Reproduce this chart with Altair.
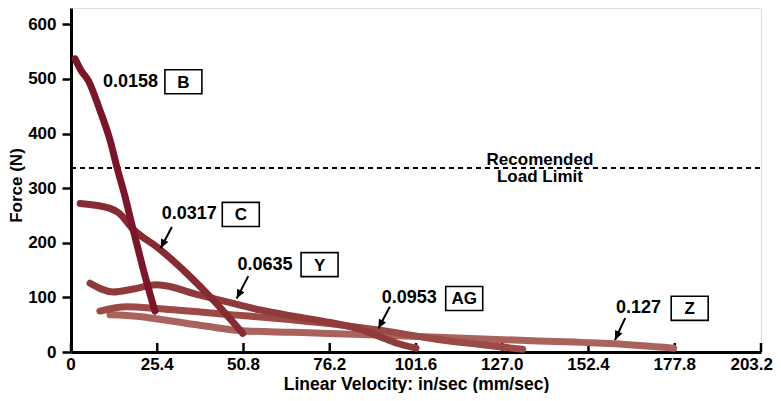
import altair as alt
import pandas as pd

# ---------------- data ----------------
x_ticks = [0, 25.4, 50.8, 76.2, 101.6, 127.0, 152.4, 177.8, 203.2]
x_tick_labels = ["0", "25.4", "50.8", "76.2", "101.6", "127.0", "152.4", "177.8", "203.2"]
y_ticks = [0, 100, 200, 300, 400, 500, 600]

series_names = ["Z", "AG", "Y", "C", "B"]          # drawing order (back to front)
series_colors = ["#aa625c", "#9c4a46", "#903b3b", "#872a31", "#7b1527"]

b_x = [1.2, 3.0, 5.1, 8.5, 11.5, 13.5, 15.9, 18.3, 21.3, 24.7]
b_y = [537, 515, 497, 443, 388, 339, 285, 224, 151, 75]
c_x = [2.7, 11.5, 14.0, 18.3, 26.2, 34.1, 41.9, 50.6]
c_y = [272, 263, 255, 225, 188, 144, 95, 34]
y_x = [5.6, 12.5, 18.0, 25.2, 38.0, 47.8, 55.7, 66.0, 76.3, 85.0, 91.0, 96.0, 101.6]
y_y = [126, 110, 115, 123, 104, 89, 77, 65, 54, 42, 28, 16, 7]
ag_x = [8.5, 16.4, 26.2, 47.8, 60.0, 76.0, 91.0, 108.0, 120.0, 133.0]
ag_y = [75, 83, 79, 68, 62, 52, 40, 23, 14, 5]
z_x = [11.5, 20.0, 27.0, 40.0, 50.0, 65.0, 76.0, 90.0, 108.0, 134.0, 160.0, 177.5]
z_y = [68, 65, 59, 47, 39, 36, 34, 31, 27, 21, 15, 7]

series_x = {"B": b_x, "C": c_x, "Y": y_x, "AG": ag_x, "Z": z_x}
series_y = {"B": b_y, "C": c_y, "Y": y_y, "AG": ag_y, "Z": z_y}

# annotation labels
value_labels = ["0.0158", "0.0317", "0.0635", "0.0953", "0.127"]
value_x = [9.4, 26.7, 49.0, 91.5, 160.5]
value_y = [495, 252, 160, 98, 80]
box_labels = ["B", "C", "Y", "AG", "Z"]
box_x = [33.1, 50.0, 73.2, 115.8, 182.2]
box_y = [495, 252, 160, 98, 80]

arrow_tail_x = [29.7, 52.2, 93.9, 163.2]
arrow_tail_y = [229, 139, 83, 62]
arrow_tip_x = [26.4, 48.8, 90.5, 160.2]
arrow_tip_y = [190, 98, 43, 22]
arrow_angle = [207, 207, 208, 205]

limit_value = 337
limit_text = ["Recomended", "Load Limit"]
limit_text_x = [138.1, 138.1]
limit_text_y = [351, 320]

FONT = "Liberation Sans"

# ---------------- scales ----------------
xs = alt.Scale(domain=[0, 203.2], nice=False, zero=False)
ys = alt.Scale(domain=[0, 630], nice=False, zero=False)

x_axis = alt.Axis(
    values=x_ticks, ticks=False, grid=False, domain=True, domainColor="black",
    domainWidth=3, labels=False,
    title="Linear Velocity: in/sec (mm/sec)", titleFont=FONT, titleFontSize=17.5,
    titleFontWeight="bold", titleColor="black", titleBaseline="alphabetic", titleY=37,
)
y_axis = alt.Axis(
    values=y_ticks, ticks=True, tickSize=9, tickWidth=2.5, tickColor="black",
    grid=False, domain=True, domainColor="black", domainWidth=3,
    labelFont=FONT, labelFontSize=17, labelFontWeight="bold", labelColor="black",
    labelPadding=6,
    title="Force (N)", titleFont=FONT, titleFontSize=17, titleFontWeight="bold",
    titleColor="black", titleAngle=-90, titleAlign="center", titleBaseline="middle",
    titleX=-55, titleY=177,
)

layers = []

# axes carrier (invisible)
axes_df = pd.DataFrame({"x": [0, 203.2], "y": [0, 630]})
layers.append(
    alt.Chart(axes_df).mark_point(opacity=0).encode(
        x=alt.X("x:Q", scale=xs, axis=x_axis),
        y=alt.Y("y:Q", scale=ys, axis=y_axis),
    )
)

# inward x ticks
tick_df = pd.DataFrame({"x": x_ticks, "t": x_tick_labels})
layers.append(
    alt.Chart(tick_df).mark_rule(color="black", strokeWidth=2.5).encode(
        x=alt.X("x:Q", scale=xs),
        y=alt.value(344), y2=alt.value(335),
    )
)
# x tick labels (last one kept inside the page)
layers.append(
    alt.Chart(tick_df.iloc[:-1]).mark_text(font=FONT, fontSize=17, fontWeight="bold",
                                           color="black", align="center",
                                           baseline="middle").encode(
        x=alt.X("x:Q", scale=xs), y=alt.value(357), text="t:N",
    )
)
layers.append(
    alt.Chart(tick_df.iloc[-1:]).mark_text(font=FONT, fontSize=17, fontWeight="bold",
                                           color="black", align="right",
                                           baseline="middle", dx=12).encode(
        x=alt.X("x:Q", scale=xs), y=alt.value(357), text="t:N",
    )
)

# recommended load limit
limit_df = pd.DataFrame({"x": [0], "x2": [203.2], "y": [limit_value]})
layers.append(
    alt.Chart(limit_df).mark_rule(color="black", strokeWidth=2, strokeDash=[5, 4]).encode(
        x=alt.X("x:Q", scale=xs), x2="x2:Q", y=alt.Y("y:Q", scale=ys),
    )
)
lt_df = pd.DataFrame({"t": limit_text, "x": limit_text_x, "y": limit_text_y})
layers.append(
    alt.Chart(lt_df).mark_text(font=FONT, fontSize=17, fontWeight="bold", color="black",
                               align="center", baseline="middle").encode(
        x=alt.X("x:Q", scale=xs), y=alt.Y("y:Q", scale=ys), text="t:N",
    )
)

# curves
for name, col in zip(series_names, series_colors):
    df = pd.DataFrame({"x": series_x[name], "y": series_y[name]})
    layers.append(
        alt.Chart(df).mark_line(color=col, strokeWidth=7, strokeCap="round",
                                strokeJoin="round", interpolate="monotone").encode(
            x=alt.X("x:Q", scale=xs), y=alt.Y("y:Q", scale=ys), order="x:Q",
        )
    )

# value labels
vl_df = pd.DataFrame({"t": value_labels, "x": value_x, "y": value_y})
layers.append(
    alt.Chart(vl_df).mark_text(font=FONT, fontSize=18, fontWeight="bold", color="black",
                               align="left", baseline="middle").encode(
        x=alt.X("x:Q", scale=xs), y=alt.Y("y:Q", scale=ys), text="t:N",
    )
)

# boxes
bx_df = pd.DataFrame({"t": box_labels, "x": box_x, "y": box_y})
layers.append(
    alt.Chart(bx_df).mark_point(shape="M-1,-0.65L1,-0.65L1,0.65L-1,0.65Z", size=1369,
                                filled=False, color="black", strokeWidth=1.6, opacity=1).encode(
        x=alt.X("x:Q", scale=xs), y=alt.Y("y:Q", scale=ys),
    )
)
layers.append(
    alt.Chart(bx_df).mark_text(font=FONT, fontSize=17, fontWeight="bold", color="black",
                               align="center", baseline="middle", dy=1).encode(
        x=alt.X("x:Q", scale=xs), y=alt.Y("y:Q", scale=ys), text="t:N",
    )
)

# arrows
ar_df = pd.DataFrame({"x": arrow_tail_x, "y": arrow_tail_y,
                      "x2": arrow_tip_x, "y2": arrow_tip_y, "a": arrow_angle})
layers.append(
    alt.Chart(ar_df).mark_rule(color="black", strokeWidth=2).encode(
        x=alt.X("x:Q", scale=xs), y=alt.Y("y:Q", scale=ys), x2="x2:Q", y2="y2:Q",
    )
)
layers.append(
    alt.Chart(ar_df).mark_point(shape="M0,0L-0.45,1L0.45,1Z", size=324, filled=True,
                                color="black", opacity=1).encode(
        x=alt.X("x2:Q", scale=xs), y=alt.Y("y2:Q", scale=ys),
        angle=alt.Angle("a:Q", scale=None),
    )
)

chart = alt.layer(*layers).properties(
    width=690, height=344,
    autosize=alt.AutoSizeParams(type="none"),
    padding={"left": 63, "top": 0, "right": 12, "bottom": 41},
).configure_view(stroke="black", strokeWidth=3).configure(background="white")

chart.save("out.html", embed_options={"renderer": "svg", "actions": False})
